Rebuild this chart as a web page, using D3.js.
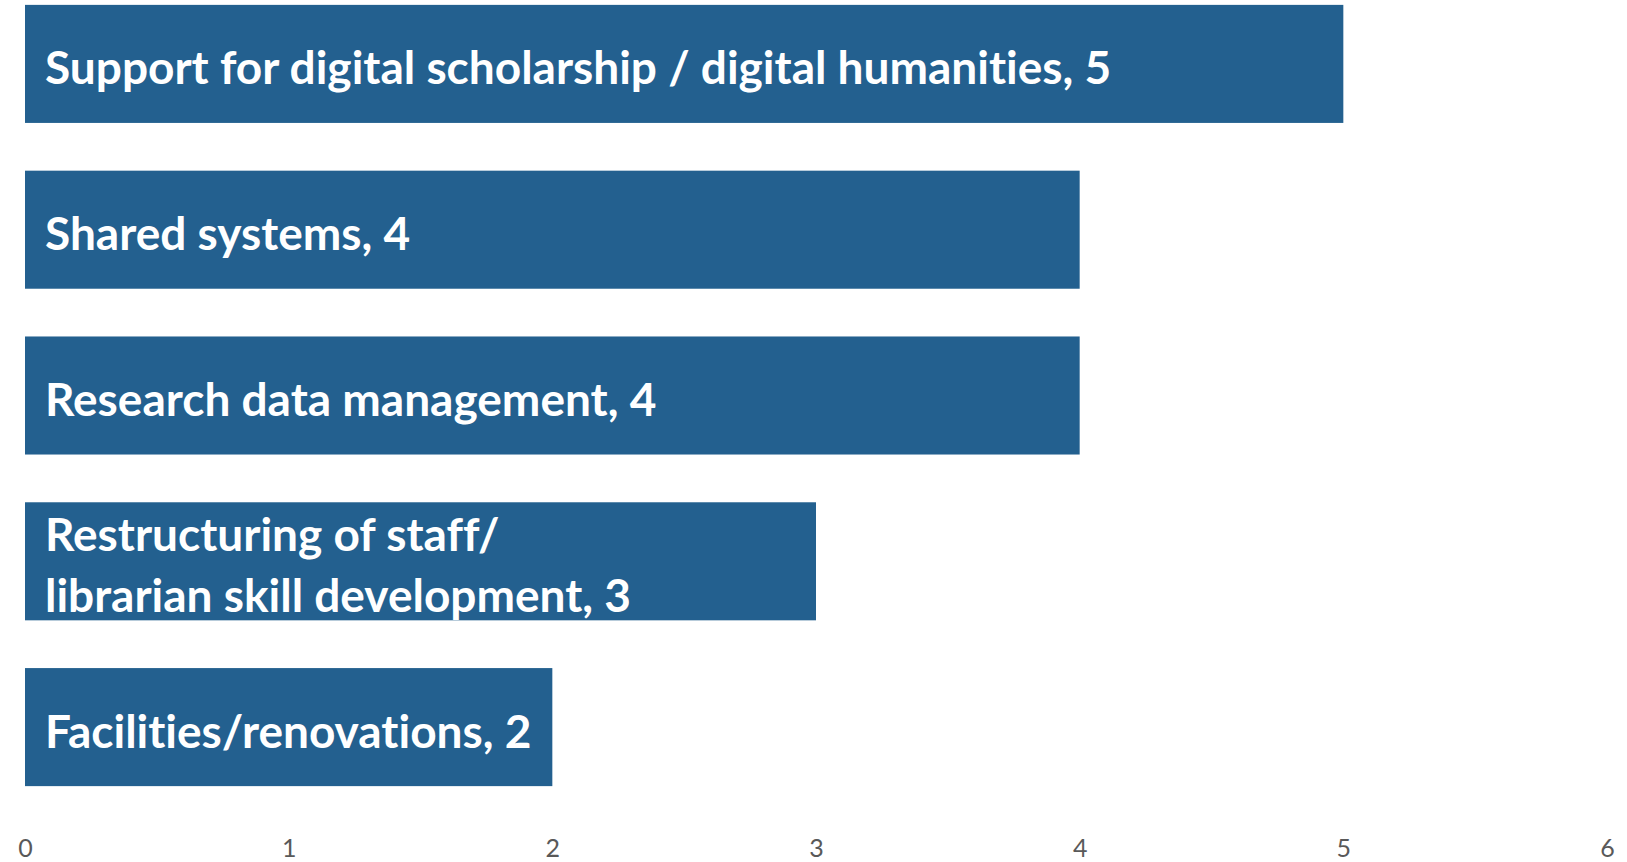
<!DOCTYPE html>
<html>
<head>
<meta charset="utf-8">
<script src="https://cdn.jsdelivr.net/npm/d3@7"></script>
<style>
  body { margin: 0; background: #fff; }
  svg { display: block; }
</style>
</head>
<body>
<svg width="1627" height="862"></svg>
<script>
var categories = [
    ["Support for digital scholarship / digital humanities, 5"],
    ["Shared systems, 4"],
    ["Research data management, 4"],
    ["Restructuring of staff/", "librarian skill development, 3"],
    ["Facilities/renovations, 2"]
]
var values = [5, 4, 4, 3, 2]
var tickValues = [0, 1, 2, 3, 4, 5, 6]

var svg = d3.select('svg'),
    width = 1627,
    height = 862,
    barColor = '#23608f'

var x = d3.scaleLinear().domain([0, 6]).range([25, 1607])

var y = d3.scaleBand()
    .domain(d3.range(values.length))
    .range([-19, 810])
    .paddingInner(0.288)
    .paddingOuter(0.144)

var data = values.map((v, i) => ({ value: v, lines: categories[i] }))

svg.selectAll('.bar')
    .data(data)
    .enter().append('rect')
    .attr('class', 'bar')
    .attr('x', x(0))
    .attr('y', (d, i) => y(i))
    .attr('width', d => x(d.value) - x(0))
    .attr('height', y.bandwidth())
    .attr('fill', barColor)

// labels inside bars
var labels = svg.selectAll('.label')
    .data(data)
    .enter().append('text')
    .attr('class', 'label')
    .attr('font-family', 'Lato, sans-serif')
    .attr('font-weight', 'bold')
    .attr('font-size', 46)
    .style('font-variant-ligatures', 'none')
    .attr('fill', '#fff')

labels.each(function (d, i) {
    var t = d3.select(this),
        n = d.lines.length,
        cy = y(i) + y.bandwidth() / 2 + 4
    d.lines.forEach((line, j) => {
        t.append('tspan')
            .attr('x', 45)
            .attr('y', cy + (j - (n - 1) / 2) * 61)
            .attr('dy', '0.36em')
            .text(line)
    })
})

// x axis, no line, no ticks
var axis = svg.append('g')
    .attr('transform', 'translate(0,' + 837 + ')')
    .call(d3.axisBottom(x).tickValues(tickValues).tickSize(0).tickPadding(0).tickFormat(d3.format('d')))

axis.select('.domain').remove()
axis.selectAll('text')
    .attr('font-family', 'Lato, sans-serif')
    .attr('font-size', 25)
    .attr('fill', '#595959')
    .attr('dy', '0.8em')
</script>
</body>
</html>
